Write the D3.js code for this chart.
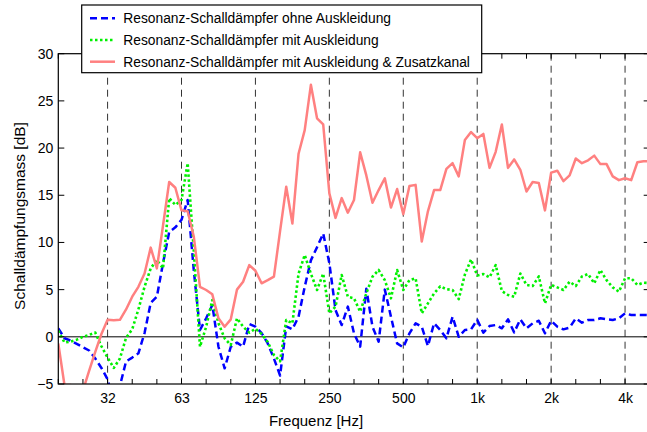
<!DOCTYPE html>
<html><head><meta charset="utf-8">
<script src="https://cdn.jsdelivr.net/npm/d3@7"></script>
<style>body{margin:0;background:#fff;}svg{display:block;font-family:"Liberation Sans",Arial,sans-serif;}</style>
</head><body>
<script>
// 1/12-octave analysis grid: 20 Hz ... 5 kHz (97 bands)
const bandsPerOctave = 12;
const bandCount = 97;
const fStart = 1000 * Math.pow(2, -68 / 12);
const freqs = d3.range(bandCount).map(k => fStart * Math.pow(2, k / bandsPerOctave));

const seriesNames = [
  "Resonanz-Schalldämpfer ohne Auskleidung",
  "Resonanz-Schalldämpfer mit Auskleidung",
  "Resonanz-Schalldämpfer mit Auskleidung & Zusatzkanal"
];

const ohneAuskleidung = [
  0.9, -0.15, -0.4, -0.75, -1.1, -1.45, -2.3, -3.3, -4.5, -7.0,
  -5.2, -2.6, -2.2, -1.75, 0.4, 3.6, 4.25, 7.8, 11.1, 11.6,
  12.4, 14.5, 7.0, 0.72, 1.96, 3.37, -1.05, -3.34, -1.05, -0.62,
  -1.05, 1.36, 1.07, 0.4, -0.7, -2.3, -4.1, 1.1, 0.8, 2.13,
  5.3, 8.1, 9.5, 10.95, 7.8, 2.84, 1.25, 3.2, 0.37, -1.05,
  5.1, 1.07, -0.52, 5.0, 2.13, -0.7, -1.12, 0.37, 1.43, 1.07,
  -0.97, 1.43, 0.72, -0.16, 2.13, 0.0, 0.72, 0.8, 1.8, 0.44,
  1.14, 1.25, 0.9, 1.85, 0.47, 1.85, 0.9, 1.43, 1.7, 0.37,
  1.7, 1.07, 0.79, 0.97, 1.96, 1.5, 1.78, 1.78, 1.96, 1.85,
  1.78, 1.96, 2.49, 2.31, 2.31, 2.31, 2.3
];

const mitAuskleidung = [
  0.65, -0.6, -0.5, -0.3, 0.0, 0.2, 0.45, -1.0, -2.2, -3.3,
  -2.3, -0.1, 0.8, 2.9, 5.3, 7.25, 8.14, 7.25, 14.7, 13.97,
  14.5, 18.4, 9.0, -1.05, 1.07, 3.9, 1.43, -0.16, -0.87, 1.96,
  1.07, 0.44, 0.85, 0.3, -0.55, -1.93, -2.6, 1.78, 1.43, 6.7,
  8.67, 6.7, 4.96, 6.7, 2.49, 3.2, 6.55, 4.25, 4.08, 2.66,
  4.6, 6.37, 7.08, 6.0, 4.08, 7.08, 4.96, 6.0, 6.2, 2.49,
  3.55, 4.6, 5.35, 5.05, 4.95, 4.0, 6.6, 8.2, 6.5, 6.65,
  6.3, 7.6, 4.85, 4.43, 4.25, 6.7, 5.5, 5.38, 6.4, 3.55,
  5.5, 5.24, 4.96, 5.84, 5.38, 6.4, 6.65, 5.67, 7.08, 6.0,
  5.24, 4.78, 6.2, 6.2, 5.5, 5.74, 5.7
];

const mitZusatzkanal = [
  -0.7, -5.1, -5.1, -9.0, -5.7, -3.6, -1.6, 0.3, 1.8, 1.75,
  1.8, 2.9, 4.25, 5.3, 6.7, 9.45, 7.25, 11.8, 16.4, 15.8,
  13.4, 13.3, 10.6, 5.3, 4.96, 4.5, 1.96, 1.07, 1.85, 5.0,
  5.84, 7.6, 7.0, 5.67, 6.0, 6.37, 11.2, 15.9, 12.0, 19.4,
  21.9, 26.7, 23.15, 22.5, 15.2, 12.6, 14.7, 13.15, 14.5, 19.55,
  17.1, 14.2, 15.55, 16.8, 13.7, 15.66, 13.0, 15.98, 16.1, 10.1,
  13.3, 15.55, 15.55, 17.8, 18.4, 17.0, 20.85, 21.7, 21.05, 21.5,
  17.9, 19.6, 22.5, 17.9, 18.8, 17.7, 15.4, 16.4, 16.3, 13.4,
  17.4, 17.6, 16.5, 17.1, 18.9, 18.4, 18.7, 19.2, 18.3, 18.3,
  17.0, 16.6, 16.8, 16.6, 18.5, 18.6, 18.6
];

const xTickValues = [31.25, 62.5, 125, 250, 500, 1000, 2000, 4000];
const xTickLabels = ["32", "63", "125", "250", "500", "1k", "2k", "4k"];
const yTickValues = [-5, 0, 5, 10, 15, 20, 25, 30];
const xMinorTicks = d3.range(-17, 8).map(j => 1000 * Math.pow(2, j / 3));

// ---- layout ----
const W = 647, H = 432;
const L = 58.3, R = 649.7, T = 53.7, B = 384;

const svg = d3.select("body").append("svg").attr("width", W).attr("height", H);

const x = d3.scaleLog().domain([fStart, 1000 * Math.pow(2, 28 / 12)]).range([L, R]);
const y = d3.scaleLinear().domain([-5, 30]).range([B, T]);

svg.append("defs").append("clipPath").attr("id", "plotclip")
  .append("rect").attr("x", L).attr("y", T).attr("width", R - L).attr("height", B - T);

// dashed vertical grid lines
svg.append("g").selectAll("line").data(xTickValues).join("line")
  .attr("x1", d => x(d)).attr("x2", d => x(d))
  .attr("y1", T).attr("y2", B)
  .attr("stroke", "#333").attr("stroke-width", 1).attr("stroke-dasharray", "7,5");

// zero line
svg.append("line").attr("x1", L).attr("x2", R).attr("y1", y(0)).attr("y2", y(0))
  .attr("stroke", "#000").attr("stroke-width", 1);

const styles = [
  {data: ohneAuskleidung, color: "#0000ff", dash: "7,4", width: 2.5},
  {data: mitAuskleidung, color: "#00f000", dash: "2.5,2.5", width: 2.6},
  {data: mitZusatzkanal, color: "#ff8080", dash: null, width: 2.5}
];

const line = d3.line().x((d, i) => x(freqs[i])).y(d => y(d));
const plotG = svg.append("g").attr("clip-path", "url(#plotclip)");
styles.forEach(s => {
  plotG.append("path").datum(s.data).attr("d", line)
    .attr("fill", "none").attr("stroke", s.color).attr("stroke-width", s.width)
    .attr("stroke-linejoin", "round")
    .attr("stroke-dasharray", s.dash);
});

// axes
const xAxisB = d3.axisBottom(x).tickValues(xTickValues).tickFormat((d, i) => xTickLabels[i]).tickSize(0).tickPadding(9);
const gx = svg.append("g").attr("transform", `translate(0,${B})`).call(xAxisB);
gx.select(".domain").remove();
gx.selectAll("text").attr("font-size", 14).attr("fill", "#000").attr("font-family", "Liberation Sans, Arial, sans-serif");

const yAxisL = d3.axisLeft(y).tickValues(yTickValues).tickFormat(d3.format("d")).tickSize(0).tickPadding(5);
const gy = svg.append("g").attr("transform", `translate(${L},0)`).call(yAxisL);
gy.select(".domain").remove();
gy.selectAll("text").attr("font-size", 14).attr("fill", "#000").attr("font-family", "Liberation Sans, Arial, sans-serif");

// inward tick marks
const tk = 5;
const ticksG = svg.append("g").attr("stroke", "#000").attr("stroke-width", 1);
xMinorTicks.forEach(f => {
  ticksG.append("line").attr("x1", x(f)).attr("x2", x(f)).attr("y1", B).attr("y2", B - tk);
  ticksG.append("line").attr("x1", x(f)).attr("x2", x(f)).attr("y1", T).attr("y2", T + tk);
});
yTickValues.forEach(v => {
  ticksG.append("line").attr("x1", L).attr("x2", L + tk + 1).attr("y1", y(v)).attr("y2", y(v));
  ticksG.append("line").attr("x1", R).attr("x2", R - tk - 1).attr("y1", y(v)).attr("y2", y(v));
});

// frame
svg.append("rect").attr("x", L).attr("y", T).attr("width", R - L).attr("height", B - T)
  .attr("fill", "none").attr("stroke", "#000").attr("stroke-width", 1.2);

// axis titles
svg.append("text").attr("x", 316).attr("y", 426).attr("text-anchor", "middle")
  .attr("font-size", 15).text("Frequenz [Hz]");
svg.append("text").attr("transform", `translate(25,216) rotate(-90)`).attr("text-anchor", "middle")
  .attr("font-size", 15.5).text("Schalldämpfungsmass [dB]");

// legend
const lg = svg.append("g");
lg.append("rect").attr("x", 81.7).attr("y", 5).attr("width", 400).attr("height", 67.7)
  .attr("fill", "#fff").attr("stroke", "#000").attr("stroke-width", 1.2);
const rowY = [18.3, 40, 61.7];
styles.forEach((s, i) => {
  lg.append("line").attr("x1", 90).attr("x2", 115).attr("y1", rowY[i]).attr("y2", rowY[i])
    .attr("stroke", s.color).attr("stroke-width", s.width).attr("stroke-dasharray", s.dash);
  lg.append("text").attr("x", 123.3).attr("y", rowY[i]).attr("dy", "0.35em")
    .attr("font-size", 13.8).text(seriesNames[i]);
});
</script>
</body></html>
